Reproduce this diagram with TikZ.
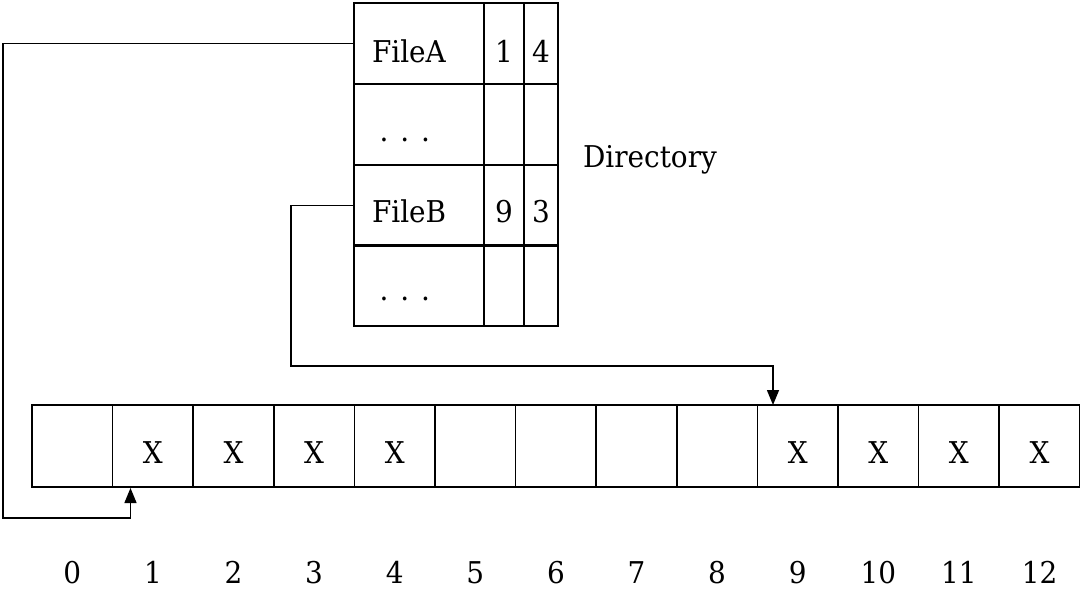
\documentclass[tikz,border=0pt]{standalone}
\usepackage{fontspec}
\setmainfont{DejaVu Serif}[FakeStretch=0.93]
\usetikzlibrary{arrows.meta}
\begin{document}
\begin{tikzpicture}[x=1pt,y=-1pt,line width=1.5pt,
  every node/.style={font=\fontsize{30}{36}\selectfont, inner sep=0pt, outer sep=0pt},
  box/.style={draw, anchor=north west, minimum height=82pt},
  dbox/.style={draw, anchor=north west, minimum height=81pt},
  lbl/.style={anchor=base},
  lblw/.style={anchor=base west},
  arr/.style={-{Triangle[length=15pt,width=12pt]}}]
\useasboundingbox (0,0) rectangle (1080,590);
% block array
\foreach \i in {0,...,12} {
  \node[box, minimum width=80.6pt] (c\i) at ({32+80.6*\i},405) {};
  \node[lbl] (n\i) at ({72.3+80.6*\i},583) {\i};
}
\foreach \i in {1,2,3,4,9,10,11,12} {
  \node[lbl] (x\i) at ({72.3+80.6*\i},463) {X};
}
% directory
\foreach \r/\y in {1/3,2/84,3/165,4/245} {
  \node[dbox, minimum width=130pt] (da\r) at (354,\y) {};
  \node[dbox, minimum width=40pt] (db\r) at (484,\y) {};
  \node[dbox, minimum width=34pt] (dc\r) at (524,\y) {};
}
\node[lblw] (tA) at (372,62) {FileA};
\node[lbl] (tA1) at (504,62) {1};
\node[lbl] (tA2) at (541,62) {4};
\node[lblw] (dots1) at (379.5,141) {.\kern12pt.\kern12pt.};
\node[lblw] (tB) at (372,222) {FileB};
\node[lbl] (tB1) at (504,222) {9};
\node[lbl] (tB2) at (541,222) {3};
\node[lblw] (dots2) at (379.5,300) {.\kern12pt.\kern12pt.};
\node[lblw] (dir) at (583,167) {Directory};
% connectors
\coordinate (pa) at (130.5,488);
\coordinate (pb) at (773,405);
\draw[arr] (da1.west) -| (3,518) -| (pa);
\draw[arr] (da3.west) -| (291,366) -| (pb);
\end{tikzpicture}
\end{document}
